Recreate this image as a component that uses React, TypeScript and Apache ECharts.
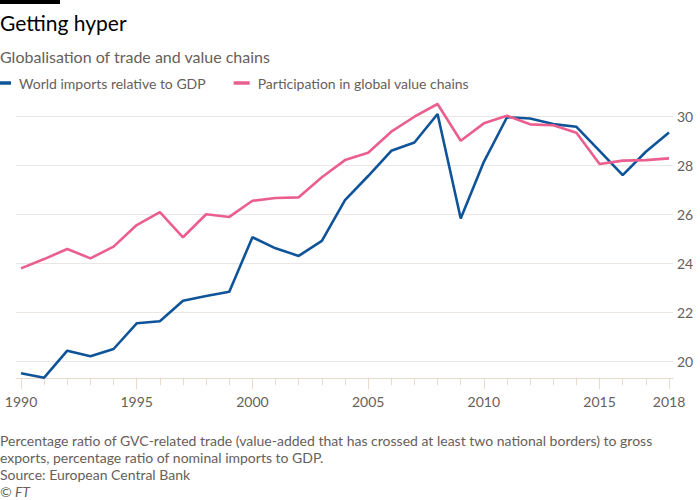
import * as echarts from 'echarts';
import { useEffect, useRef } from 'react';

const years = [
  1990, 1991, 1992, 1993, 1994, 1995, 1996, 1997, 1998, 1999, 2000, 2001, 2002, 2003, 2004,
  2005, 2006, 2007, 2008, 2009, 2010, 2011, 2012, 2013, 2014, 2015, 2016, 2017, 2018,
];
const worldImports = [
  19.5, 19.32, 20.42, 20.19, 20.49, 21.54, 21.62, 22.46, 22.65, 22.83, 25.05, 24.6, 24.29, 24.9,
  26.57, 27.55, 28.58, 28.92, 30.08, 25.82, 28.13, 29.95, 29.9, 29.67, 29.56, 28.58, 27.59, 28.54,
  29.33,
];
const gvcParticipation = [
  23.78, 24.16, 24.57, 24.19, 24.67, 25.55, 26.08, 25.05, 25.99, 25.88, 26.54, 26.65, 26.68, 27.5,
  28.2, 28.5, 29.36, 29.97, 30.49, 28.99, 29.7, 30.01, 29.66, 29.62, 29.32, 28.04, 28.18, 28.2,
  28.27,
];
const yearLabels = [1990, 1995, 2000, 2005, 2010, 2015, 2018];
const seriesNames = ['World imports relative to GDP', 'Participation in global value chains'];
const notes = [
  'Percentage ratio of GVC-related trade (value-added that has crossed at least two national borders) to gross',
  'exports, percentage ratio of nominal imports to GDP.',
  'Source: European Central Bank',
];

const FONT = 'Lato, "Noto Sans", sans-serif';
const GREY = '#66605c';
const TICK = '#e6d9ce';

export default function App() {
  const elRef = useRef<HTMLDivElement | null>(null);

  useEffect(() => {
    if (!elRef.current) return;
    document.body.style.margin = '0';
    const chart = echarts.init(elRef.current, undefined, { renderer: 'svg' });

    const pair = (vals: number[]) => years.map((y, i) => [y, vals[i]]);

    chart.setOption({
      animation: false,
      textStyle: { fontFamily: FONT },
      legend: {
        left: -5,
        top: 76,
        padding: 0,
        icon: 'rect',
        itemWidth: 16,
        itemHeight: 3.5,
        itemGap: 28,
        textStyle: { fontSize: 14, color: GREY, fontFamily: FONT, padding: [0, 0, 0, 3] },
        data: seriesNames,
      },
      grid: [
        { left: 16, right: 27, top: 116, bottom: 139 },
        { left: 21, right: 31, top: 101.3, bottom: 121.85 },
      ],
      xAxis: [
        {
          gridIndex: 0,
          type: 'value',
          min: 0,
          max: 1,
          offset: 17,
          axisLine: { show: true, lineStyle: { color: TICK, width: 1 } },
          axisTick: { show: false },
          axisLabel: { show: false },
          splitLine: { show: false },
        },
        {
          gridIndex: 1,
          type: 'value',
          min: 1990,
          max: 2018,
          interval: 1,
          axisLine: { show: false },
          axisTick: { show: true, length: 7, lineStyle: { color: TICK } },
          axisLabel: {
            customValues: yearLabels,
            formatter: (v: number) => String(v),
            margin: 16,
            fontSize: 14,
            color: GREY,
            fontFamily: FONT,
          },
          splitLine: { show: false },
        },
        {
          gridIndex: 1,
          type: 'value',
          min: 1990,
          max: 2018,
          position: 'bottom',
          axisLine: { show: false },
          axisTick: { show: true, length: 11, customValues: yearLabels, lineStyle: { color: TICK } },
          axisLabel: { show: false },
          splitLine: { show: false },
        },
      ],
      yAxis: [
        {
          gridIndex: 0,
          type: 'value',
          position: 'right',
          min: 20,
          max: 30,
          interval: 2,
          axisLine: { show: false },
          axisTick: { show: false },
          axisLabel: { margin: 4, fontSize: 14, color: GREY, fontFamily: FONT },
          splitLine: { lineStyle: { color: '#ebe6e1', width: 1 } },
        },
        {
          gridIndex: 1,
          type: 'value',
          min: 19.3,
          max: 30.6,
          show: false,
        },
      ],
      series: [
        {
          name: seriesNames[0],
          type: 'line',
          xAxisIndex: 1,
          yAxisIndex: 1,
          data: pair(worldImports),
          showSymbol: false,
          color: '#0f5499',
          lineStyle: { width: 2.6, color: '#0f5499' },
        },
        {
          name: seriesNames[1],
          type: 'line',
          xAxisIndex: 1,
          yAxisIndex: 1,
          data: pair(gvcParticipation),
          showSymbol: false,
          color: '#eb5f8e',
          lineStyle: { width: 2.6, color: '#eb5f8e' },
        },
      ],
      graphic: [
        { type: 'rect', left: 0, top: 0, shape: { width: 60, height: 4 }, style: { fill: '#000' } },
        {
          type: 'text',
          left: 0,
          top: 12,
          style: { text: 'Getting hyper', font: `21px ${FONT}`, fill: '#000' },
        },
        {
          type: 'text',
          left: 0,
          top: 48,
          style: { text: 'Globalisation of trade and value chains', font: `16px ${FONT}`, fill: GREY },
        },
        ...notes.map((t, i) => ({
          type: 'text',
          left: 0,
          top: 433 + i * 17,
          style: { text: t, font: `14px ${FONT}`, fill: GREY },
        })),
        {
          type: 'text',
          left: 0,
          top: 484,
          style: { text: '© FT', font: `italic 14px ${FONT}`, fill: GREY },
        },
      ],
    });

    return () => chart.dispose();
  }, []);

  return <div ref={elRef} style={{ width: 700, height: 500 }} />;
}
